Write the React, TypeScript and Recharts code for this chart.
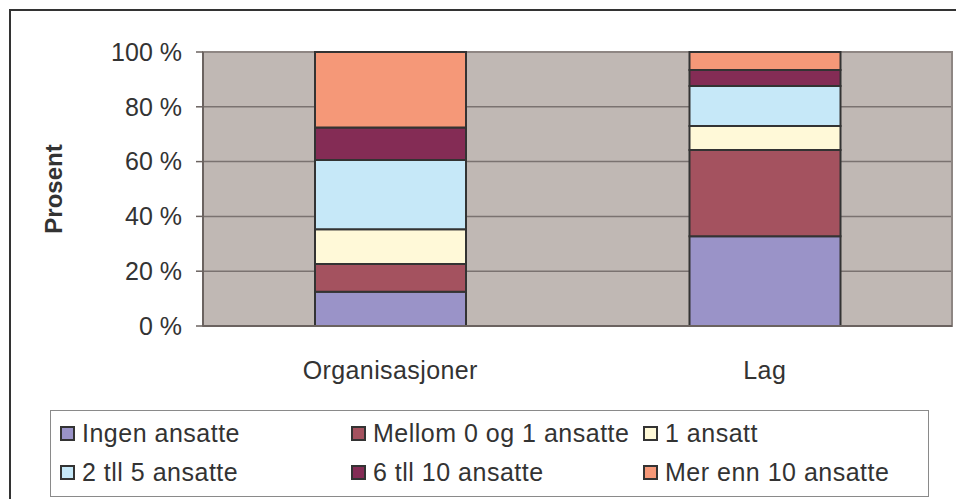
import React from "react";
import {
  BarChart,
  Bar,
  XAxis,
  YAxis,
  CartesianGrid,
  Legend,
  ReferenceArea,
} from "recharts";

const categories = ["Organisasjoner", "Lag"];
const ingenAnsatte = [12.5, 32.8];
const mellom0og1 = [10.1, 31.4];
const enAnsatt = [12.7, 8.8];
const toTilFem = [25.3, 14.6];
const seksTilTi = [11.8, 5.8];
const merEnnTi = [27.6, 6.6];
const yTicks = [0, 20, 40, 60, 80, 100];

const series = [
  { key: "ingen", name: "Ingen ansatte", color: "#9A93C8", values: ingenAnsatte },
  { key: "mellom", name: "Mellom 0 og 1 ansatte", color: "#A4525F", values: mellom0og1 },
  { key: "en", name: "1 ansatt", color: "#FFF9D8", values: enAnsatt },
  { key: "toFem", name: "2 tll 5 ansatte", color: "#C6E8F8", values: toTilFem },
  { key: "seksTi", name: "6 tll 10 ansatte", color: "#842C55", values: seksTilTi },
  { key: "merTi", name: "Mer enn 10 ansatte", color: "#F59878", values: merEnnTi },
];

const data = categories.map((name, i) => {
  const row: Record<string, string | number> = { name };
  series.forEach((s) => {
    row[s.key] = s.values[i];
  });
  return row;
});

const font = "'Liberation Sans', Arial, sans-serif";

const LegendBox = () => (
  <div
    style={{
      boxSizing: "border-box",
      width: 879,
      height: 87,
      border: "1.5px solid #8a8a8a",
      background: "#fff",
      display: "grid",
      gridTemplateColumns: "291px 292px auto",
      gridAutoRows: "39px",
      paddingLeft: 9,
      paddingTop: 3,
      fontFamily: font,
      fontSize: 25,
      letterSpacing: 0.5,
      color: "#333",
    }}
  >
    {series.map((s) => (
      <div key={s.key} style={{ display: "flex", alignItems: "center", whiteSpace: "nowrap" }}>
        <span
          style={{
            display: "inline-block",
            boxSizing: "border-box",
            width: 15,
            height: 15,
            background: s.color,
            border: "2px solid #333",
            marginRight: 7,
          }}
        />
        {s.name}
      </div>
    ))}
  </div>
);

export default function App() {
  return (
    <div style={{ position: "relative", width: 956, height: 499, overflow: "hidden", background: "#fff" }}>
      <style>{`body{margin:0;overflow:hidden}`}</style>
      <div
        style={{
          position: "absolute",
          left: 9,
          top: 9,
          width: 1000,
          height: 600,
          border: "2px solid #333",
        }}
      />
      <div style={{ position: "absolute", left: 0, top: 0 }}>
        <BarChart
          width={956}
          height={499}
          data={data}
          margin={{ top: 52, right: 4, left: 53, bottom: 113 }}
        >
          <CartesianGrid
            vertical={false}
            fill="#C0B8B4"
            fillOpacity={1}
            stroke="#7a7270"
            strokeWidth={1.5}
          />
          <ReferenceArea y1={0} y2={100} fill="none" stroke="#8e8683" strokeWidth={2} />
          <XAxis
            dataKey="name"
            height={60}
            tickLine={false}
            axisLine={{ stroke: "#6b6360", strokeWidth: 2 }}
            tickMargin={29}
            tick={{ fill: "#333", fontSize: 25, fontFamily: font, letterSpacing: 0.4 }}
          />
          <YAxis
            width={150}
            domain={[0, 100]}
            ticks={yTicks}
            interval={0}
            tickFormatter={(v) => `${v} %`}
            tickSize={7}
            tickMargin={14}
            tickLine={{ stroke: "#6b6360", strokeWidth: 1.5 }}
            axisLine={{ stroke: "#6b6360", strokeWidth: 2 }}
            tick={{ fill: "#333", fontSize: 25, fontFamily: font }}
            label={{
              value: "Prosent",
              angle: -90,
              position: "insideLeft",
              offset: 0,
              style: {
                textAnchor: "middle",
                fontSize: 24,
                fontWeight: "bold",
                fontFamily: font,
                fill: "#333",
              },
            }}
          />
          <Legend
            layout="vertical"
            verticalAlign="middle"
            align="center"
            wrapperStyle={{ position: "absolute", left: 50, top: 410, width: 879, height: 87 }}
            content={() => <LegendBox />}
          />
          {series.map((s) => (
            <Bar
              key={s.key}
              dataKey={s.key}
              name={s.name}
              stackId="a"
              fill={s.color}
              stroke="#333"
              strokeWidth={2}
              barSize={151}
              isAnimationActive={false}
            />
          ))}
        </BarChart>
      </div>
    </div>
  );
}
